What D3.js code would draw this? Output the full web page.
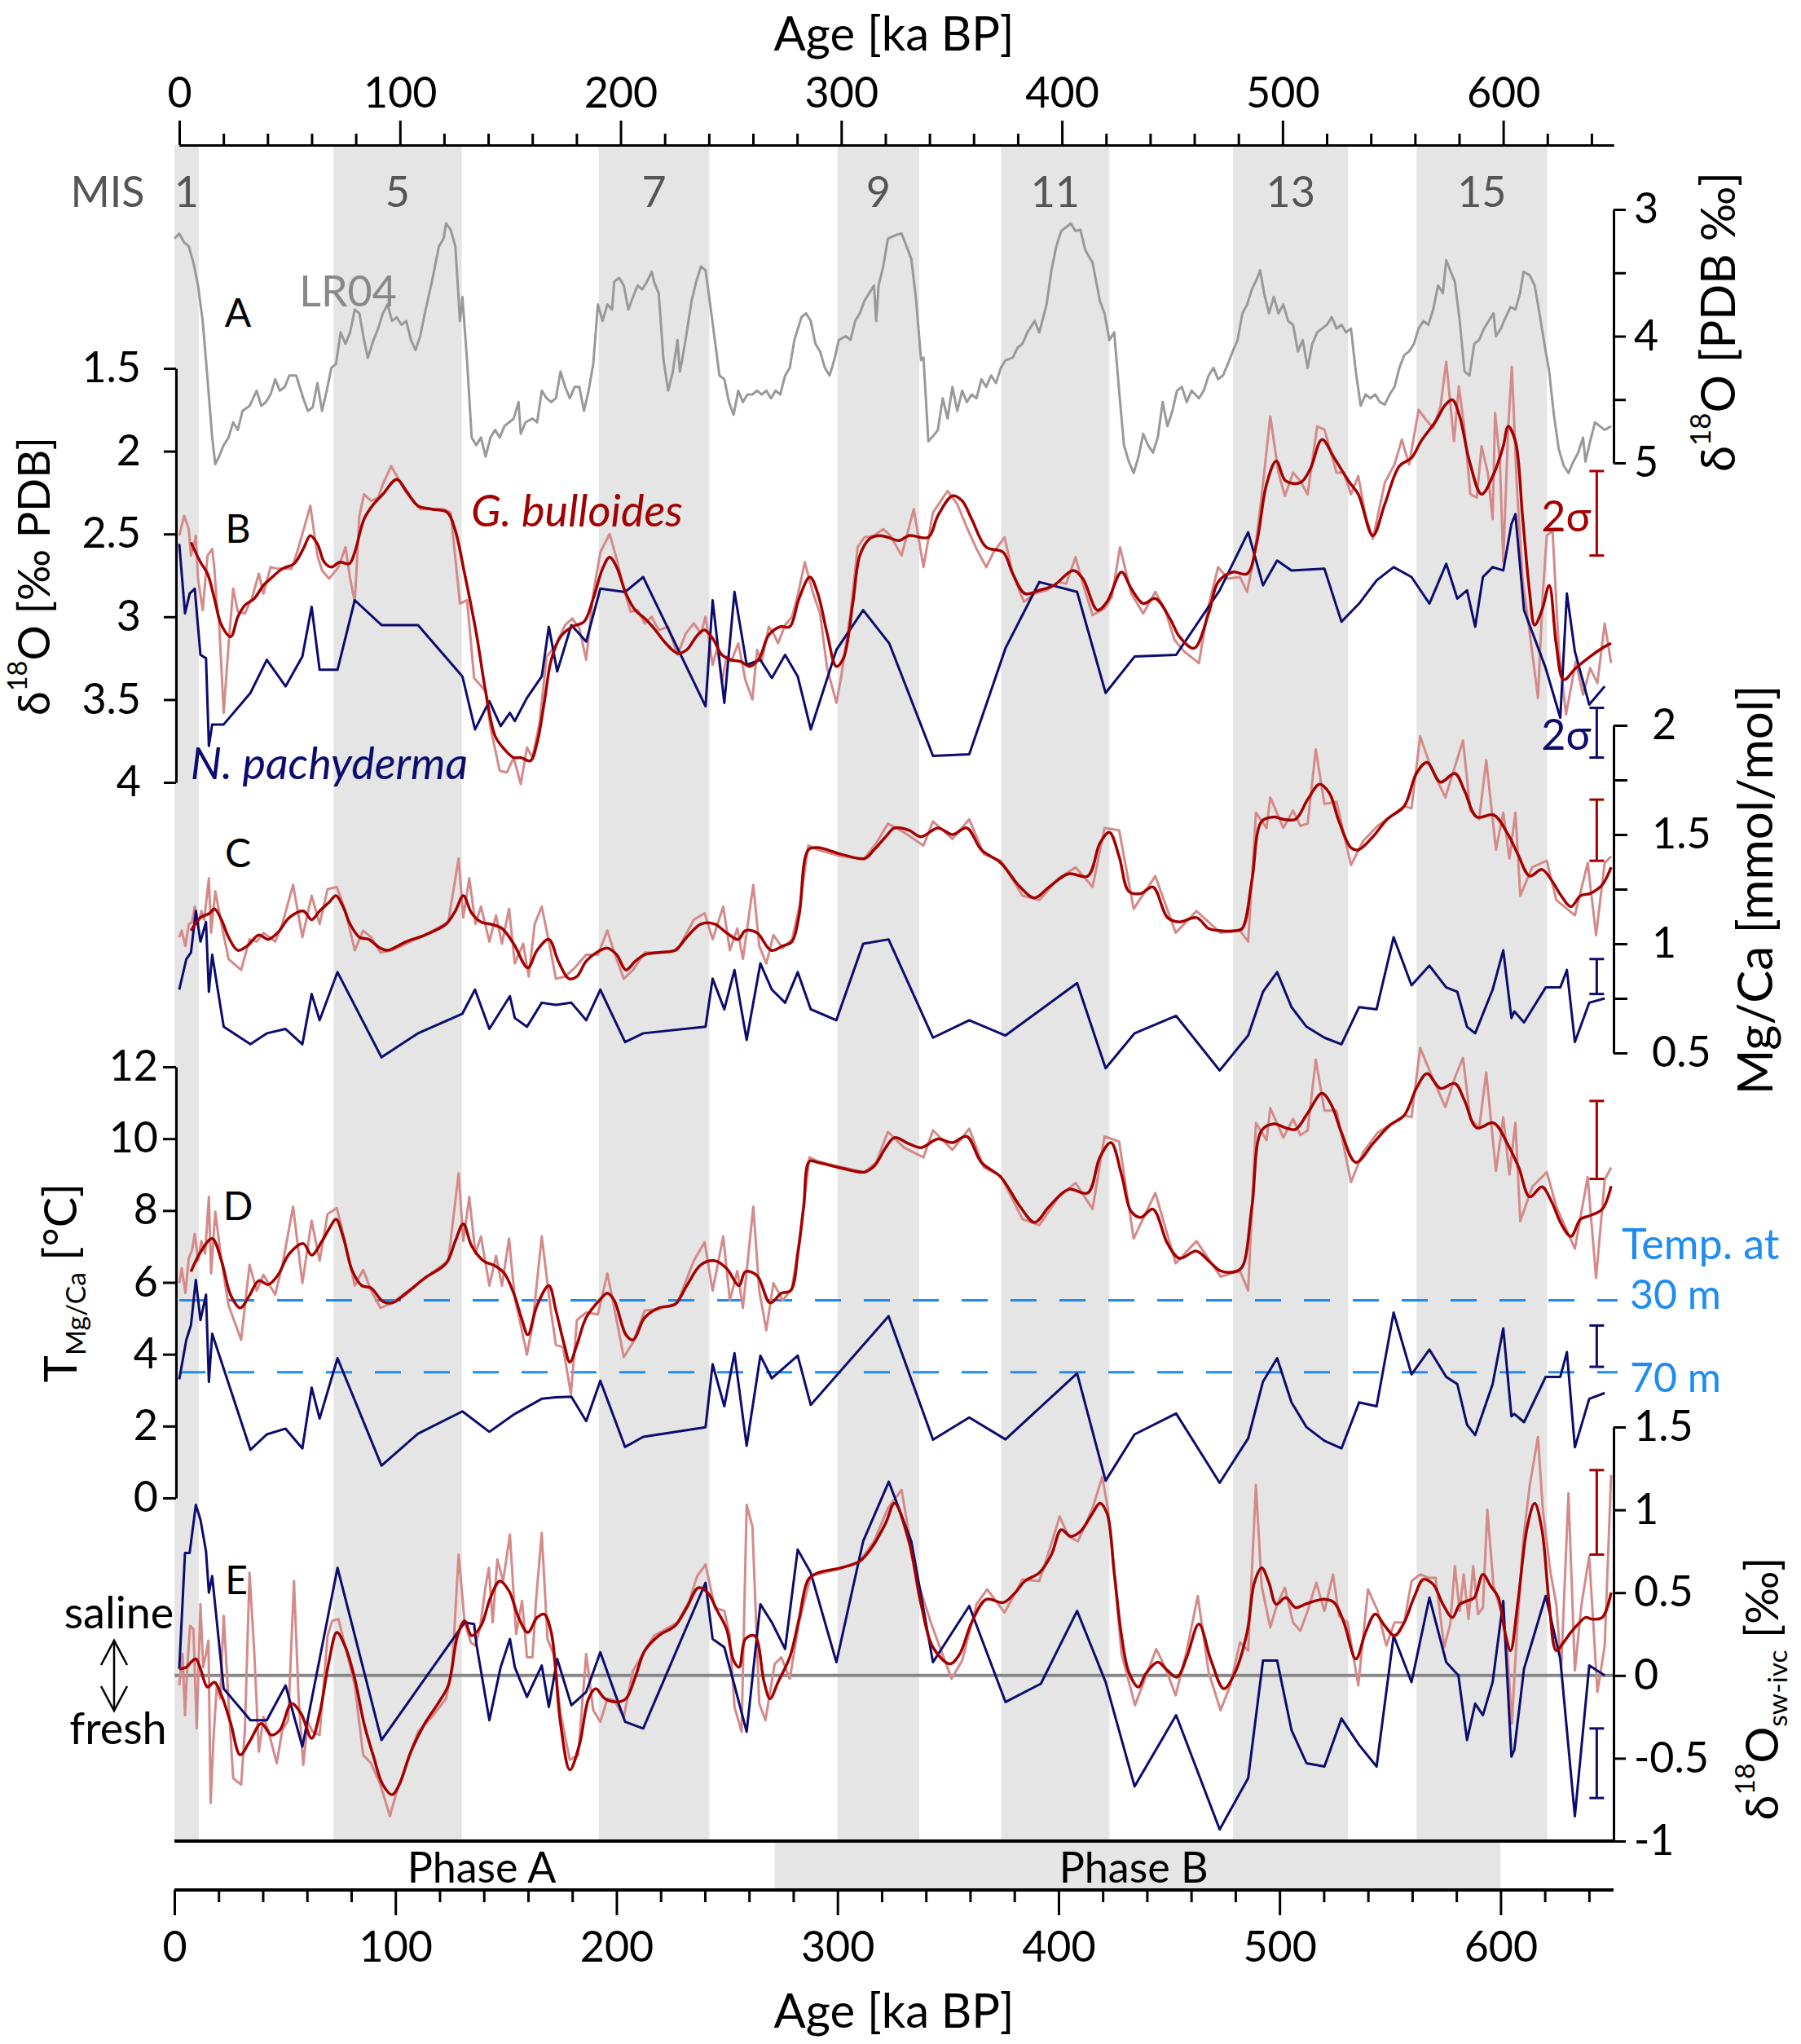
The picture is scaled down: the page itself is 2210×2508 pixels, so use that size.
<!DOCTYPE html>
<html>
<head>
<meta charset="utf-8">
<script src="https://cdn.jsdelivr.net/npm/d3@7"></script>
<style>
  body { margin: 0; background: #fff; }
  text { font-family: Lato, "Open Sans", sans-serif; }
</style>
</head>
<body>
<svg id="chart" width="2210" height="2508"></svg>
<script>

// Marine isotope stages (interglacials), ka.
var misBands = [[0, 11], [72, 130], [192, 242], [300, 337], [374, 423], [479, 531], [562, 621]];
var misLabels = ['1', '5', '7', '9', '11', '13', '15'];
var phaseB = [271.6, 600];
var ageTicks = [0, 100, 200, 300, 400, 500, 600];

// A: LR04 benthic stack, [ka, permil].
var lr04 = [[0.1,3.23],[2.2,3.19],[4.4,3.26],[6.5,3.29],[8.6,3.42],[10.7,3.6],[12.8,3.88],[15,4.34],[17.1,4.8],[18.5,5.01],[20.2,4.95],[22.3,4.86],[24.5,4.8],[26.6,4.68],[28.7,4.74],[30.8,4.59],[34,4.55],[37.2,4.43],[39.3,4.55],[41.4,4.52],[43.5,4.46],[45.6,4.34],[47.7,4.43],[49.9,4.4],[52,4.31],[55.1,4.31],[58.3,4.49],[60.4,4.59],[62.6,4.56],[64.7,4.37],[66.8,4.59],[68.9,4.43],[71,4.25],[73.1,4.22],[75.2,3.97],[77.4,4.06],[79.5,3.97],[81.6,3.79],[83.7,3.82],[85.8,4.03],[87.5,4.17],[90.1,4.03],[92.2,3.94],[94.3,3.82],[96.4,3.75],[98.5,3.88],[100.6,3.85],[102.7,3.91],[104.9,3.88],[107,4.03],[109.1,4.11],[111.2,4],[113.3,3.82],[116.5,3.57],[119.7,3.29],[121.8,3.23],[122.9,3.11],[125,3.16],[127.1,3.29],[129.2,3.88],[130.3,3.69],[132.4,4.19],[134.5,4.8],[136.6,4.86],[138.7,4.8],[140.8,4.95],[143,4.8],[145.1,4.74],[147.2,4.8],[149.3,4.71],[151.4,4.68],[153.5,4.65],[155.7,4.52],[156.7,4.77],[158.8,4.68],[162,4.65],[164.1,4.68],[166.2,4.43],[168.4,4.49],[170.5,4.52],[172.6,4.49],[174.7,4.28],[176.8,4.4],[178.9,4.49],[181.1,4.4],[183.2,4.4],[185.3,4.59],[187.4,4.43],[189.5,4.22],[191.6,3.75],[193.7,3.88],[195.9,3.75],[198,3.79],[199,3.57],[201.2,3.54],[203.3,3.6],[205.4,3.79],[207.5,3.69],[209.6,3.6],[211.7,3.63],[213.8,3.57],[216,3.49],[217,3.57],[219.1,3.66],[221.3,4.19],[223.4,4.43],[225.5,4.28],[227.6,4.03],[228.7,4.28],[229.7,4.19],[231.8,3.97],[234,3.72],[236.1,3.57],[238.2,3.45],[240.3,3.48],[242.4,3.75],[244.5,4.03],[246.6,4.31],[248.8,4.34],[250.9,4.52],[253,4.62],[255.1,4.43],[257.2,4.52],[259.3,4.46],[261.5,4.46],[263.6,4.43],[265.7,4.46],[267.8,4.43],[269.9,4.49],[272,4.43],[274.1,4.46],[276.3,4.31],[278.4,4.25],[280.5,4.03],[283.7,3.85],[285.8,3.82],[287.9,3.88],[290,4.06],[292.1,4.12],[294.3,4.25],[296.4,4.31],[298.5,4.19],[300.6,4.03],[303.8,4],[305.9,4.03],[308,3.88],[310.1,3.82],[312.2,3.72],[314.4,3.66],[316.5,3.6],[317.5,3.88],[318.6,3.6],[320.7,3.45],[322.8,3.23],[326.6,3.2],[329,3.19],[331.2,3.29],[333.4,3.39],[335.6,3.72],[337.8,4.19],[338.9,4.17],[341.1,4.83],[343.2,4.79],[345.4,4.74],[347.6,4.49],[349.8,4.65],[352,4.4],[354.2,4.59],[356.4,4.43],[358.5,4.52],[360.7,4.46],[362.9,4.49],[365.1,4.34],[367.3,4.4],[369.5,4.31],[371.7,4.37],[373.9,4.25],[376,4.19],[379.3,4.17],[381.5,4.09],[383.7,4.06],[385.9,3.97],[389.2,3.88],[391.3,3.97],[394.6,3.75],[396.8,3.48],[399,3.29],[401.2,3.17],[403.4,3.14],[405.5,3.11],[407.7,3.17],[409.9,3.16],[412.1,3.32],[415.4,3.42],[418.7,3.72],[420.8,3.82],[423,4.03],[425.2,3.97],[427.4,4.43],[429.6,4.86],[431.8,4.99],[434,5.08],[436.2,4.95],[438.3,4.77],[440.5,4.86],[442.7,4.92],[444.9,4.8],[447.1,4.52],[449.3,4.71],[451.5,4.59],[453.6,4.43],[455.8,4.4],[458,4.52],[460.2,4.43],[463.5,4.49],[465.7,4.43],[467.9,4.31],[470.1,4.25],[472.2,4.34],[474.4,4.31],[476.6,4.22],[478.8,4.12],[481,4.03],[483.2,3.82],[485.3,3.75],[487.5,3.63],[489.7,3.55],[491.2,3.48],[493,3.66],[495.2,3.82],[497.4,3.69],[499.5,3.82],[501.7,3.75],[503.9,3.88],[506.1,3.91],[508.3,4.12],[510.5,4.03],[512.7,4.25],[514.8,4.06],[517,3.97],[519.2,3.94],[521.4,3.91],[523.6,3.85],[525.8,3.94],[528,3.91],[530.1,3.97],[532.3,3.94],[534.5,4.28],[536.7,4.55],[538.9,4.46],[541.1,4.49],[543.3,4.46],[545.4,4.52],[547.6,4.54],[549.8,4.46],[552,4.4],[554.2,4.25],[556.4,4.15],[558.6,4.12],[560.8,4.06],[562.9,3.94],[565.1,3.88],[567.3,3.91],[569.5,3.79],[571.7,3.6],[573.9,3.66],[575.4,3.4],[577.2,3.48],[579.3,3.57],[581.5,3.88],[583.7,4.28],[585.9,4.31],[588.1,4.06],[590.3,4.03],[592.5,3.94],[594.6,3.88],[596.8,3.82],[597.9,4],[600.1,3.94],[602.3,3.85],[604.5,3.77],[606.7,3.79],[608.8,3.66],[610.4,3.49],[613.2,3.52],[615.4,3.6],[617.6,3.82],[619.8,4.06],[622,4.28],[624.1,4.62],[626.3,4.89],[628.5,5.02],[630.7,5.08],[632.9,4.99],[635.1,4.92],[637.3,4.8],[638.4,4.99],[640.5,4.83],[642.7,4.68],[644.9,4.71],[647.1,4.74],[650,4.71]];

// B: planktic d18O, G. bulloides raw and smoothed, N. pachyderma.
var gbRawB = [[2.2,2.51],[4.4,2.39],[6.5,2.47],[7.5,2.63],[8.6,2.58],[9.7,2.51],[10.7,2.77],[12.8,2.96],[15,2.63],[17.1,2.59],[18.1,2.71],[19.2,2.93],[20.2,3.03],[22.3,3.58],[24.5,3.17],[26.6,2.83],[28.7,2.97],[31.9,2.98],[35,2.89],[38.2,2.74],[40.3,2.86],[43.5,2.7],[46.7,2.71],[53,2.71],[56.2,2.58],[61.5,2.33],[64.7,2.63],[66.8,2.72],[70,2.77],[74.2,2.7],[77.4,2.58],[79.5,2.77],[81.6,2.91],[83.7,2.39],[85.8,2.26],[89,2.3],[92.2,2.28],[94.3,2.2],[98.1,2.09],[100.6,2.15],[104.9,2.25],[111.2,2.35],[121.8,2.35],[125,2.37],[129.2,2.92],[132.4,2.9],[135.6,3.37],[140.8,3.45],[143,3.67],[147.2,3.93],[150.4,3.94],[153.5,3.85],[156.7,4.01],[159.5,3.79],[162,3.85],[165.2,3.64],[168.4,3.24],[172.6,3.17],[176.8,3.05],[180,3.01],[183.2,3.07],[186.3,3.26],[189.5,2.86],[192.7,2.61],[196.9,2.5],[200.1,2.65],[203.3,2.83],[206.4,2.97],[209.6,2.96],[212.8,3.04],[215.9,3],[219.1,3.08],[223.4,3.06],[227.6,3.23],[231.4,3.1],[235,3.04],[238.2,3.1],[240.3,3],[243.5,3.29],[245.6,3.19],[247.7,3.4],[249.8,3.24],[251.9,3.27],[255.1,3.16],[258.3,3.38],[261.5,3.5],[263.6,3.2],[265.7,3.27],[268.9,3.06],[271,3.1],[273.1,3.16],[276.3,3.05],[279.4,3],[282.2,2.86],[285.2,2.67],[289,2.86],[292.1,2.98],[295.3,3.31],[299.5,3.52],[301.7,3.36],[305.9,2.98],[309.1,2.58],[312.2,2.52],[316.5,2.51],[320.7,2.47],[323.9,2.51],[329,2.63],[334.5,2.35],[338.9,2.7],[343.2,2.37],[349.8,2.24],[354.2,2.32],[358.5,2.46],[362.9,2.59],[367.3,2.7],[370.6,2.61],[375.6,2.52],[379.3,2.74],[384.3,2.91],[389.2,2.86],[394.6,2.84],[400.1,2.79],[403.4,2.8],[407.7,2.64],[411,2.8],[415.4,2.99],[420.8,2.95],[424.1,2.88],[427.8,2.58],[432.9,2.86],[438.3,2.98],[443.8,2.85],[448.2,2.96],[452.5,3.14],[456.9,3.21],[463.5,3.28],[467.9,2.93],[472.2,2.7],[476.6,2.77],[482.1,2.76],[485.3,2.85],[488.6,2.63],[491.9,2.27],[495.8,1.79],[499.5,2.13],[502.4,2.27],[506.1,2.13],[509.4,2.18],[512.7,2.26],[517,1.85],[520.3,1.87],[525.8,2.13],[529.1,2.13],[532.3,2.26],[535.6,2.15],[538.9,2.39],[542.2,2.53],[547.6,2.19],[552,2.08],[555.3,1.93],[558.6,2.08],[562.9,1.75],[566.2,1.81],[569.5,1.86],[572.8,1.73],[575.4,1.46],[578.9,1.94],[581.1,1.61],[583.7,1.87],[586.3,2.26],[589.2,2.28],[591.4,1.97],[594.2,2.13],[596.4,2.41],[597.5,1.77],[599.7,2.06],[601.2,2.67],[603.4,1.87],[605.1,1.49],[607.3,2.2],[609.9,2.77],[613.2,3.1],[616.9,3.49],[619.1,2.86],[620.9,2.51],[623.5,2.48],[626.3,3.19],[629.6,3.59],[634,3.27],[637.3,3.47],[640.5,3.31],[643.8,3.4],[647.1,3.04],[650,3.28]];
var gbSmB = [[7.5,2.55],[11.8,2.67],[15,2.74],[18.1,2.89],[21.3,3.05],[25.5,3.12],[28.7,3],[31.9,2.93],[36.1,2.89],[40.3,2.81],[43.5,2.77],[48.8,2.71],[54.1,2.68],[58.3,2.59],[61.5,2.51],[64.7,2.56],[67.8,2.67],[71,2.7],[74.8,2.67],[79.1,2.68],[81.6,2.61],[85.8,2.41],[90.1,2.32],[94.3,2.26],[100.6,2.17],[104.9,2.24],[110.2,2.33],[116.5,2.35],[123.5,2.37],[127.1,2.48],[131.3,2.74],[136.6,3.1],[140.8,3.45],[145.1,3.72],[149.3,3.8],[153.5,3.85],[156.7,3.85],[161,3.87],[164.1,3.76],[167.3,3.52],[170.5,3.26],[174.7,3.12],[180,3.06],[185.3,3.03],[189.5,2.89],[193.7,2.71],[196.9,2.64],[200.1,2.7],[204.3,2.86],[208.5,2.96],[212.8,3.01],[217,3.07],[222.3,3.16],[227.6,3.22],[231.8,3.2],[236.1,3.12],[239.7,3.08],[243.5,3.13],[247.7,3.23],[251.9,3.26],[256.2,3.27],[260.4,3.3],[264.6,3.25],[268.9,3.11],[274.1,3.06],[278.4,3.06],[282.6,2.89],[287.5,2.76],[291.1,2.86],[295.3,3.1],[299.5,3.3],[302.7,3.25],[307,2.91],[310.1,2.63],[314.4,2.53],[318.6,2.51],[322.8,2.52],[327.9,2.54],[332.3,2.51],[341.1,2.52],[345.4,2.39],[352,2.27],[356.4,2.3],[360.7,2.41],[367.3,2.58],[374.9,2.61],[379.3,2.74],[384.8,2.86],[391.3,2.84],[397.9,2.81],[406.6,2.72],[411,2.77],[417.6,2.96],[421.9,2.91],[428.5,2.73],[432.9,2.83],[438.3,2.92],[443.8,2.89],[450.4,3.01],[454.7,3.12],[461.3,3.19],[467.9,2.98],[472.2,2.79],[478.8,2.73],[485.3,2.74],[489.7,2.55],[494.1,2.2],[498.5,2.06],[502.8,2.18],[509.4,2.19],[513.8,2.11],[519.2,1.93],[524.7,2.04],[531.2,2.18],[535.6,2.26],[542.2,2.51],[547.6,2.32],[554.2,2.09],[559.7,2.04],[564,1.94],[570.6,1.82],[575,1.72],[578.2,1.69],[581.5,1.79],[585.9,2.06],[591.4,2.26],[596.8,2.14],[601.2,1.97],[603.4,1.85],[606.7,1.94],[609.9,2.39],[613.2,2.86],[615.4,3.05],[618.7,2.96],[622,2.81],[625.2,3.17],[628.5,3.38],[634,3.31],[640.5,3.24],[647.1,3.18],[650,3.16]];
var npB = [[2.2,2.56],[4.8,2.98],[6.9,2.86],[9.2,2.83],[11.8,3.23],[14.3,3.25],[15.6,3.78],[17.1,3.65],[22.3,3.65],[34.4,3.46],[41.8,3.26],[50.3,3.42],[57.9,3.24],[62.1,2.94],[65.7,3.32],[73.8,3.32],[81.6,2.9],[93.7,3.05],[110.2,3.05],[130.3,3.36],[136,3.68],[142.5,3.51],[147.6,3.66],[151.8,3.58],[154,3.63],[159.5,3.49],[166.2,3.36],[169.4,3.06],[173.2,3.33],[179.6,3.05],[186.3,3.15],[192.7,2.83],[203.9,2.85],[212.1,2.76],[240.3,3.54],[243.5,2.9],[248.8,3.52],[253.4,2.85],[258.9,3.29],[265.1,3.26],[270.3,3.37],[276.3,3.23],[282,3.36],[287.9,3.68],[299.5,3.2],[311.6,2.96],[323.4,3.16],[343.2,3.84],[359.6,3.83],[376,3.19],[391.3,2.79],[408.4,2.85],[421.3,3.46],[434.4,3.24],[453.2,3.23],[472.9,2.84],[485.8,2.49],[492.5,2.81],[498.9,2.66],[505.4,2.72],[520.3,2.71],[528,3.03],[536,2.92],[543.9,2.78],[551.6,2.7],[559.7,2.76],[567.8,2.92],[575.4,2.68],[580.4,2.89],[584.8,2.84],[588.5,3.06],[592,2.76],[596.4,2.7],[601.2,2.72],[604.9,2.44],[606.7,2.38],[610.6,2.96],[620.4,3.31],[627,3.61],[630,2.86],[633.6,3.21],[640.1,3.53],[647.1,3.42]];

// C: Mg/Ca, mmol/mol.
var gbRawC = [[2.2,1.03],[3.3,1.06],[5,0.99],[6.5,1.09],[8,1.1],[9.2,1.17],[10.7,1.09],[12.2,1.15],[13.5,1.11],[15.6,1.3],[16.6,1.05],[18.5,1.24],[21.3,1.09],[24.5,0.93],[30.2,0.88],[34,1.02],[37.2,1.01],[40.3,1.05],[45.6,1.01],[48.8,1.09],[53.7,1.27],[57.9,1.03],[62.1,1.22],[65.7,1.09],[69.3,1.25],[73.5,1.26],[77.4,1.15],[81.6,0.97],[85.4,1.06],[89,1.03],[93.2,0.96],[98.5,0.97],[113.3,1.04],[123.9,1.1],[128.6,1.39],[130.7,1.12],[133.4,1.3],[136.2,1.09],[138.7,1.17],[142.5,1.01],[145.5,1.13],[148.2,1],[151.4,1.16],[154,0.91],[157.8,1],[160.3,0.85],[163,1.09],[166.2,1.17],[169.4,1.01],[172.6,0.84],[176.8,0.85],[181.1,0.89],[186.3,0.95],[191.6,0.95],[195.9,1.06],[199,0.96],[203.3,0.84],[207.5,0.88],[212.8,0.96],[219.1,0.96],[227.6,0.97],[235,1.11],[239.9,1.14],[243.5,1.02],[248.3,1.17],[251.3,0.97],[254.7,1.07],[257.2,0.93],[261.9,1.27],[264.6,0.99],[267.8,0.91],[271,1.04],[275.2,0.98],[279.4,1.02],[283,1.18],[286.8,1.45],[291.1,1.43],[301.7,1.4],[312.2,1.39],[317.5,1.46],[322.8,1.55],[330.1,1.51],[338.9,1.45],[343.2,1.56],[352,1.48],[359.6,1.57],[366.2,1.41],[373.9,1.38],[383.7,1.22],[391.3,1.2],[400.1,1.3],[407.7,1.35],[415.4,1.26],[420.8,1.53],[427.4,1.52],[434,1.16],[443.8,1.31],[453,1.05],[462.4,1.15],[473.3,1.05],[482.1,1.06],[485.8,1.01],[489.3,1.6],[494.1,1.53],[495.8,1.67],[501.7,1.53],[506.1,1.61],[509.4,1.54],[512.7,1.55],[516.4,1.89],[520.3,1.64],[525.8,1.65],[532.3,1.36],[537.8,1.47],[544.4,1.54],[556.4,1.63],[559.7,1.62],[563.6,1.95],[568.4,1.81],[575,1.67],[579.3,1.81],[583,1.93],[586.3,1.61],[590.3,1.57],[593.5,1.84],[597.9,1.43],[601.2,1.6],[604,1.39],[606.7,1.6],[608.9,1.22],[614.3,1.35],[620.9,1.38],[625.2,1.2],[633.6,1.13],[639.4,1.37],[643.2,1.04],[647.1,1.37],[650,1.4]];
var gbSmC = [[7.5,1.06],[11.8,1.12],[16,1.14],[18.1,1.16],[21.3,1.11],[24.5,1.03],[28.7,0.97],[32.9,0.99],[38.2,1.04],[42.4,1.02],[46.7,1.05],[52,1.12],[58.3,1.15],[62.1,1.11],[65.7,1.15],[70,1.19],[73.1,1.22],[76.3,1.17],[79.5,1.09],[83.7,1.03],[87.9,1.02],[93.2,0.98],[96.4,0.97],[104.9,1.01],[113.3,1.04],[122.9,1.09],[127.1,1.15],[130.7,1.22],[134.5,1.14],[138.7,1.1],[143,1.09],[148.2,1.07],[153.5,1],[159.9,0.89],[164.1,0.97],[169.4,1.02],[173.7,0.92],[178.5,0.84],[182.1,0.85],[186.3,0.92],[192.7,0.97],[195.9,0.98],[200.1,0.95],[204.3,0.88],[208.5,0.92],[212.8,0.95],[219.1,0.96],[226.5,0.97],[231.8,1.03],[238.2,1.09],[244.5,1.09],[249.8,1.05],[255.1,1.02],[258.3,1.06],[263.6,1.05],[269.9,0.97],[275.2,0.99],[279.4,1.01],[282.6,1.13],[286.8,1.43],[291.1,1.44],[301.7,1.41],[312.2,1.39],[316.5,1.43],[321.8,1.49],[325.8,1.53],[332.3,1.52],[337.8,1.49],[345.4,1.53],[352,1.5],[358.5,1.53],[365.1,1.43],[373.9,1.37],[382.6,1.26],[389.2,1.21],[395.7,1.26],[404.5,1.32],[413.2,1.31],[418.7,1.46],[423,1.51],[427.4,1.4],[431.8,1.24],[437.2,1.23],[442.7,1.26],[449.3,1.12],[454.7,1.1],[462.4,1.12],[467.9,1.07],[473.3,1.06],[479.9,1.06],[483.1,1.07],[487.5,1.29],[491.9,1.56],[497.4,1.58],[501.7,1.57],[507.2,1.57],[512.7,1.66],[518.1,1.73],[522.5,1.69],[526.9,1.56],[532.3,1.44],[535.6,1.43],[542.2,1.49],[548.7,1.57],[556.4,1.63],[561.9,1.78],[566.7,1.83],[572.8,1.74],[579.3,1.78],[583.7,1.7],[589.2,1.58],[596.8,1.59],[603.4,1.5],[607.8,1.41],[613.2,1.31],[618.7,1.34],[623.1,1.29],[627.4,1.22],[631.8,1.17],[636.2,1.22],[640.5,1.23],[646,1.27],[650,1.35]];
var npC = [[2.2,0.79],[5.4,0.93],[7.5,0.96],[9.7,1.15],[11.8,1.01],[14.3,1.1],[15.6,0.78],[17.1,0.95],[22.3,0.62],[34.4,0.54],[41.8,0.59],[50.3,0.61],[57.9,0.54],[62.1,0.77],[65.7,0.65],[73.8,0.87],[93.7,0.48],[110.2,0.59],[130.3,0.68],[136,0.79],[142.5,0.61],[151.8,0.76],[154,0.66],[159.5,0.62],[166.2,0.73],[172.6,0.72],[179.6,0.73],[186.3,0.65],[192.7,0.79],[203.9,0.55],[212.1,0.59],[240.3,0.62],[243.5,0.84],[248.8,0.7],[253.4,0.88],[258.9,0.56],[265.1,0.91],[270.3,0.79],[276.3,0.73],[282,0.87],[287.9,0.7],[299.5,0.65],[311.6,1],[323.1,1.02],[343.2,0.57],[359.6,0.65],[376,0.58],[408.4,0.82],[421.3,0.43],[434.4,0.59],[453.2,0.67],[472.9,0.42],[485.8,0.58],[492.5,0.78],[498.9,0.87],[505.4,0.71],[512.2,0.62],[520.3,0.57],[528,0.54],[536,0.71],[543.9,0.7],[551.6,1.03],[559.7,0.81],[567.8,0.9],[575.4,0.8],[580.4,0.78],[584.8,0.62],[588.5,0.59],[596.4,0.79],[601.2,0.97],[604.9,0.66],[606.2,0.69],[610.6,0.64],[620.4,0.8],[627,0.8],[630,0.88],[633.6,0.55],[640.1,0.73],[647.1,0.75]];

// D: Mg/Ca temperature, degC.
var gbRawD = [[2.2,5.98],[3.3,6.39],[5,5.7],[6.5,6.67],[8,6.9],[9.2,7.35],[10.7,6.6],[12.2,7.15],[13.9,6.8],[15.6,8.38],[16.6,6.25],[18.5,7.97],[21.3,6.6],[24.5,5.36],[30.2,4.4],[34,6.49],[37.2,5.77],[40.3,6.21],[45.6,5.66],[48.8,6.46],[53.7,8.11],[57.9,5.98],[62.1,7.72],[65.7,6.6],[69.3,7.9],[73.5,8.07],[77.4,7.08],[81.6,5.91],[85.4,6.35],[89,5.77],[93.2,5.29],[98.5,5.43],[113.3,6.12],[123.9,6.6],[128.6,9.04],[130.7,7.15],[133.4,8.38],[136.2,6.8],[138.7,7.28],[142.5,5.91],[145.5,6.74],[148.2,5.91],[151.4,7.22],[154,5.57],[156.7,4.81],[159.5,3.99],[162,4.81],[166.2,7.28],[170,5.36],[172.6,4.26],[175.8,4.2],[179.4,2.89],[182.1,4.95],[186.3,5.16],[191.6,5.11],[195.9,6.25],[199,5.29],[203.3,3.92],[207.5,4.33],[212.8,5.22],[219.1,5.25],[227.6,5.43],[235,6.6],[239.9,7.12],[243.5,5.77],[248.3,7.28],[251.3,5.5],[254.7,6.32],[257.2,5.29],[261.9,8.11],[264.6,5.77],[267.8,4.67],[271,5.98],[275.2,5.5],[279.4,5.84],[283,7.28],[287.3,9.48],[291.1,9.37],[301.7,9.21],[312.2,9.07],[317.5,9.34],[322.8,10.19],[330.1,9.75],[338.9,9.48],[343.2,10.23],[352,9.69],[359.6,10.28],[366.2,9.2],[373.9,8.96],[383.7,7.76],[391.3,7.59],[400.1,8.38],[407.7,8.77],[415.4,8.04],[420.8,10.06],[427.4,9.92],[434,7.22],[443.8,8.49],[453,6.53],[462.4,7.15],[473.3,6.16],[482.1,6.32],[485.8,5.77],[489.3,10.44],[494.1,9.96],[495.8,10.85],[501.7,10.03],[506.1,10.55],[509.4,10.1],[512.7,10.23],[516.4,12.2],[520.3,10.78],[525.8,10.78],[532.3,8.79],[537.8,9.62],[544.4,10.17],[556.4,10.65],[559.7,10.6],[563.6,12.53],[568.4,11.81],[575,10.88],[579.3,11.7],[583,12.25],[586.3,10.55],[590.3,10.3],[593.5,11.84],[597.9,9.1],[601.2,10.6],[604,9],[606.7,10.44],[608.9,7.7],[614.3,8.66],[620.9,9.07],[625.2,8.11],[633.6,6.94],[639.4,8.93],[643.2,6.12],[647.1,8.86],[650,9.2]];
var gbSmD = [[7.5,6.3],[11.8,6.84],[17.1,7.22],[21.3,6.6],[25.5,5.64],[29.8,5.29],[34,5.64],[38.2,6.05],[42.4,5.94],[46.7,6.19],[52,6.8],[58.3,7.08],[62.1,6.76],[66.8,7.15],[70,7.49],[73.1,7.76],[76.3,7.28],[80.5,6.32],[84.8,5.91],[89,5.84],[94.3,5.47],[98.5,5.43],[104.9,5.7],[113.3,6.12],[122.9,6.53],[127.1,7.15],[130.7,7.63],[134.5,7.01],[139.8,6.6],[145.1,6.46],[149.3,6.25],[153.5,5.7],[157.3,4.95],[159.9,4.54],[164.1,5.36],[169.4,5.91],[172.6,5.22],[176.4,4.26],[178.9,3.78],[182.1,4.26],[186.3,5.02],[192.7,5.53],[195.9,5.7],[199,5.5],[204.3,4.54],[207.5,4.4],[212.8,5.02],[219.1,5.29],[226.5,5.39],[231.8,5.91],[238.2,6.49],[244.5,6.6],[249.8,6.39],[255.5,5.91],[258.3,6.3],[263.6,6.19],[269.5,5.43],[274.6,5.7],[278.8,5.77],[282.2,6.87],[284.7,8.11],[287.3,9.37],[291.1,9.34],[301.7,9.18],[312.2,9.07],[316.5,9.23],[321.8,9.75],[325.8,10.03],[332.3,9.86],[337.8,9.75],[345.4,9.99],[352,9.89],[358.5,10.06],[365.1,9.34],[373.9,8.93],[382.6,8.11],[389.2,7.67],[395.7,8.11],[404.5,8.59],[413.2,8.49],[418.7,9.48],[423.7,9.89],[428.5,9],[432.9,7.97],[437.2,7.81],[442.7,8.04],[449.3,7.08],[454.7,6.67],[462.4,6.87],[467.9,6.6],[473.3,6.32],[479.9,6.3],[483.1,6.43],[487.5,8.11],[491.9,10.23],[497.4,10.41],[502.8,10.3],[507.2,10.26],[512.7,10.71],[519.2,11.26],[523.6,10.92],[528,10.17],[534.5,9.34],[542.2,9.86],[549.8,10.37],[556.4,10.65],[561.9,11.4],[566.7,11.81],[572.8,11.4],[579.3,11.54],[583.7,11.06],[589.2,10.3],[596.8,10.44],[603.4,9.82],[608.2,9.2],[613.2,8.38],[618.7,8.66],[623.1,8.24],[627.4,7.63],[631.8,7.28],[636.2,7.76],[640.5,7.86],[646,8.04],[650,8.68]];
var npD = [[2.2,3.3],[5.4,4.4],[7.5,4.81],[9.7,6.07],[11.8,4.95],[14.3,5.66],[15.6,3.23],[17.1,4.57],[34.4,1.34],[41.8,1.77],[50.3,1.93],[57.9,1.38],[62.1,3.07],[65.7,2.21],[73.8,3.89],[93.7,0.9],[110.2,1.79],[130.3,2.41],[142.5,1.84],[154,2.34],[166.2,2.76],[172.6,2.8],[179.6,2.82],[186.3,2.14],[192.7,3.26],[203.9,1.42],[212.1,1.7],[240.3,1.97],[243.5,3.72],[248.8,2.55],[253.4,4.03],[258.9,1.45],[265.1,3.96],[270.3,3.33],[282,3.96],[287.9,2.59],[323.1,5.06],[343.2,1.62],[359.6,2.24],[376,1.63],[408.4,3.47],[421.3,0.48],[434.4,1.77],[453.2,2.35],[472.9,0.42],[485.8,1.66],[492.5,3.24],[498.9,3.89],[505.4,2.66],[512.2,1.97],[520.3,1.59],[528,1.38],[536,2.66],[543.9,2.55],[551.6,5.16],[559.7,3.44],[567.8,4.13],[575.4,3.37],[580.4,3.17],[584.8,2.04],[588.5,1.75],[596.4,3.17],[601.2,4.72],[604.9,2.27],[606.2,2.34],[610.6,2.11],[620.4,3.37],[627,3.37],[630,4.06],[633.6,1.41],[640.1,2.76],[647.1,2.92]];
var depthTemps = [5.5, 3.5];

// E: d18O seawater (ice-volume corrected).
var gbRawE = [[2.2,-0.06],[3.7,0.13],[4.8,-0.24],[5.8,0.04],[7.1,0.3],[8.6,0.28],[10.1,-0.32],[11.8,0.43],[13,0.05],[14.3,0.13],[15.4,0.21],[16.4,-0.77],[17.7,-0.38],[19.2,-0.06],[20.7,-0.14],[22.3,0.36],[24.5,-0.16],[26.6,-0.62],[30.2,-0.66],[31.9,-0.33],[34,0.62],[36.1,0.15],[38.2,-0.46],[40.3,-0.25],[42.4,-0.33],[46.3,-0.53],[48.8,-0.33],[51.5,-0.27],[54.1,0.57],[56.2,-0.14],[58.3,-0.54],[60.4,-0.28],[62.5,-0.34],[65.7,-0.36],[69.3,0.24],[71.4,0.33],[74.2,0.34],[77.8,0.15],[81.6,-0.06],[85.4,-0.48],[89,-0.53],[93.2,-0.66],[97.5,-0.85],[100.6,-0.7],[110.2,-0.34],[116.5,-0.25],[122.9,-0.14],[125.6,0.03],[128.6,0.73],[131.3,0.32],[134.1,0.2],[136.2,0.18],[138.3,0.29],[140.8,0.54],[142.3,0.65],[144,0.32],[146.1,0.7],[148.7,0.57],[151.8,0.85],[154.6,0.25],[157.3,0.45],[159.5,0.11],[162,0.11],[163.7,0.47],[166.2,0.86],[168.8,0.22],[171.5,0.13],[174.7,-0.23],[178.9,-0.51],[182.7,-0.48],[186.3,0.13],[189.5,-0.21],[192.7,-0.28],[195.9,-0.14],[199,-0.15],[203.3,-0.25],[207.5,0.03],[212.8,0.15],[217,0.24],[227.6,0.32],[232.9,0.45],[236.5,0.6],[240.3,0.67],[244.5,0.41],[248.8,0.39],[251.3,0.24],[253.4,-0.19],[256.6,-0.34],[258.9,1.03],[261.5,0.9],[264.6,-0.17],[267.4,-0.27],[271.6,0.07],[274.6,0.11],[278.4,-0.02],[282.6,0.32],[287.9,0.6],[299.5,0.64],[310.1,0.69],[316.5,0.81],[322.8,1.01],[329,1.12],[335.6,0.6],[342.2,0.32],[351.6,-0.02],[356.4,0.09],[362.9,0.43],[367.7,0.52],[375.6,0.38],[383.7,0.58],[391.3,0.57],[395.7,0.75],[400.5,0.96],[404.5,0.84],[408.8,0.81],[415.4,1.01],[419.8,1.2],[422.4,1],[425.2,0.62],[428.5,0.13],[434.6,-0.18],[439.4,-0.01],[444.2,0.16],[448.2,0.05],[453,-0.12],[458,0.15],[463,0.48],[467.9,0.02],[473.3,-0.21],[477.7,-0.06],[482.1,0.2],[485.8,0.15],[489.3,1.15],[491.9,0.54],[495.8,0.29],[498.9,0.43],[502.4,0.53],[506.1,0.32],[509.4,0.27],[512.7,0.39],[516.6,0.56],[520.3,0.39],[524.2,0.61],[526.9,0.36],[530.8,0.32],[535.6,-0.06],[540,0.52],[544.4,0.39],[548.3,0.18],[552,0.32],[556.4,0.32],[559.7,0.57],[563.6,0.61],[567.3,0.59],[570.6,0.59],[574.5,0.17],[577.2,0.31],[579.3,0.66],[581.5,0.39],[583.3,0.61],[585.5,0.34],[587.6,0.66],[589.8,0.37],[592,0.41],[594,1],[596.8,0.54],[600.1,0.39],[602.9,0.18],[605.1,-0.29],[607.3,0.24],[610.4,0.84],[613.2,1.15],[616.9,1.44],[619.1,1],[622.6,0.62],[625.2,0.43],[627.4,0.04],[630.7,1.1],[633.6,0.03],[636.6,0.43],[640.1,0.72],[643.8,-0.1],[647.1,0.18],[650,1.21]];
var gbSmE = [[2.2,0.04],[5.4,0.05],[7.5,0.08],[9.7,0.1],[11.8,0.04],[15,-0.07],[18.1,-0.04],[21.3,-0.12],[25.5,-0.29],[29.8,-0.48],[34,-0.4],[39.3,-0.29],[43.9,-0.36],[47.7,-0.33],[53,-0.17],[57.3,-0.23],[62.1,-0.38],[65.7,-0.23],[70,0.09],[73.5,0.26],[77.4,0.17],[81.6,-0.02],[85.8,-0.29],[90.1,-0.49],[94.3,-0.66],[98.5,-0.72],[101.7,-0.66],[107,-0.46],[113.3,-0.29],[119.7,-0.16],[123.9,-0.06],[128.1,0.24],[131.3,0.33],[134.5,0.24],[138.7,0.3],[143,0.47],[147.2,0.57],[151.4,0.51],[155.7,0.35],[159.9,0.26],[164.1,0.35],[167.3,0.37],[170.5,0.26],[174.7,-0.29],[178.9,-0.57],[183.2,-0.42],[187.4,-0.14],[190.6,-0.08],[194.8,-0.14],[200.1,-0.16],[204.3,-0.14],[208.5,-0.01],[212.8,0.15],[219.1,0.24],[226.5,0.3],[231.8,0.41],[237.1,0.53],[241.3,0.5],[245.6,0.39],[249.8,0.28],[253,0.09],[255.5,0.05],[258.3,0.22],[262.5,0.24],[266.8,-0.04],[269.5,-0.14],[273.1,-0.04],[278.4,0.11],[282.6,0.34],[286.8,0.58],[291.1,0.62],[301.7,0.65],[310.1,0.69],[315.4,0.77],[321.8,0.92],[325.8,1.04],[332.3,0.81],[337.8,0.43],[343.2,0.17],[350.9,0.07],[355.3,0.13],[360.7,0.32],[367.3,0.46],[374.9,0.44],[380.4,0.5],[384.8,0.57],[391.3,0.62],[396.8,0.73],[401.2,0.88],[405.5,0.84],[409.9,0.87],[415.4,0.98],[418.7,1.04],[421.9,0.98],[425.2,0.62],[428.5,0.24],[431.8,0.02],[436.2,-0.07],[439.4,0.01],[444.9,0.08],[449.3,0.03],[453.6,-0.01],[458,0.11],[463.5,0.31],[469,0.09],[474.8,-0.08],[479.9,0.02],[485.3,0.26],[488.6,0.56],[491.9,0.65],[495.2,0.56],[498.5,0.43],[502.8,0.47],[507.2,0.41],[511.6,0.43],[516,0.45],[520.3,0.46],[524.7,0.44],[529.1,0.32],[534.5,0.1],[538.9,0.26],[543.3,0.37],[547.6,0.3],[552,0.24],[556.4,0.32],[560.8,0.47],[565.1,0.58],[569.5,0.55],[573.9,0.43],[578.2,0.35],[581.5,0.43],[584.8,0.45],[588.1,0.47],[592,0.61],[595.5,0.54],[599,0.47],[602.3,0.24],[604.5,0.15],[607.7,0.43],[612.1,0.9],[615.4,1.04],[618.7,0.88],[622,0.43],[625.2,0.15],[628.5,0.2],[631.8,0.26],[635.1,0.31],[638.4,0.35],[641.6,0.34],[646,0.35],[650,0.5]];
var npE = [[2.2,0.04],[4.8,0.74],[6.9,0.74],[9.7,1.03],[11.8,0.94],[14.3,0.75],[15.6,0.5],[17.1,0.6],[22.3,-0.08],[34.4,-0.27],[41.8,-0.27],[50.3,-0.06],[57.9,-0.43],[73.8,0.65],[93.7,-0.39],[131.3,0.32],[135.6,0.31],[136.5,0.2],[142.5,-0.27],[147.6,0.05],[151.8,0.22],[154,0.05],[159.5,-0.13],[166.2,0.06],[169.4,-0.19],[173.2,0.1],[179.6,-0.18],[186.3,-0.1],[192.7,0.14],[203.9,-0.28],[212.1,-0.32],[240.3,0.56],[243.5,0.22],[248.8,0.17],[253.4,-0.06],[258.9,-0.34],[265.1,0.43],[270.3,0.32],[276.3,0.16],[282,0.76],[287.9,0.62],[299.5,0.08],[311.6,0.81],[323.2,1.17],[333.4,0.81],[343.2,0.08],[359.6,0.42],[376,-0.16],[392,-0.05],[408.4,0.39],[421.3,-0.04],[434.4,-0.67],[453.2,-0.24],[472.9,-0.93],[485.8,-0.62],[492.5,0.09],[498.9,0.09],[505.4,-0.33],[512.2,-0.53],[520.3,-0.55],[528,-0.26],[536,-0.42],[543.9,-0.55],[551.6,0.24],[559.7,-0.04],[567.8,0.47],[575.4,0.08],[580.9,0],[584.8,-0.39],[588.5,-0.17],[592,-0.24],[596.4,-0.04],[601.2,0.45],[604.9,-0.49],[606.2,-0.45],[610.6,0.04],[620.4,0.48],[627,0.1],[633.6,-0.85],[640.1,0.06],[647.1,0]];

// 2 sigma error bars for panels B, C, D, E.
var errAge = 643.5;
var errRed = [[2.12, 2.63], [1.38, 1.66], [8.88, 11.05], [0.73, 1.24]];
var errBlue = [[3.55, 3.85], [0.77, 0.93], [3.65, 4.8], [-0.74, -0.32]];

// Colours.
var RED = '#a30000', PINK = '#d58a8a', NAVY = '#0c0c6e', GREY = '#999999',
    BAND = '#e5e5e5', SKY = '#1e8cf0';

var svg = d3.select('#chart');
svg.append('rect').attr('width', 2210).attr('height', 2508).attr('fill', '#fff');

// Scales.
var x = d3.scaleLinear().domain([0, 650]).range([214, 1977]);
var xTop = d3.scaleLinear().domain([0, 650]).range([220, 1980]);
var yA = d3.scaleLinear().domain([3, 5]).range([257, 568]);
var yB = d3.scaleLinear().domain([1.5, 4]).range([452, 960]);
var yC = d3.scaleLinear().domain([0.5, 2]).range([1292, 890]);
var yD = d3.scaleLinear().domain([0, 12]).range([1838, 1309]);
var yE = d3.scaleLinear().domain([-1, 1.5]).range([2259, 1751]);
var panelY = [yB, yC, yD, yE];

var TOP = 178, BASE = 2259, RIGHT = 1980;

// MIS bands and phase box.
svg.append('g').selectAll('rect').data(misBands).join('rect')
  .attr('x', function(d) { return x(d[0]); })
  .attr('width', function(d) { return x(d[1]) - x(d[0]); })
  .attr('y', TOP).attr('height', BASE - TOP).attr('fill', BAND);

svg.append('rect').attr('x', x(phaseB[0])).attr('width', x(phaseB[1]) - x(phaseB[0]))
  .attr('y', BASE).attr('height', 58).attr('fill', BAND);

// Reference lines.
svg.append('line').attr('x1', x(0)).attr('x2', RIGHT)
  .attr('y1', yE(0)).attr('y2', yE(0)).attr('stroke', '#888').attr('stroke-width', 4);

svg.append('g').selectAll('line').data(depthTemps).join('line')
  .attr('x1', 220).attr('x2', 1985)
  .attr('y1', function(d) { return yD(d); }).attr('y2', function(d) { return yD(d); })
  .attr('stroke', SKY).attr('stroke-width', 3).attr('stroke-dasharray', '32,28');

// Series.
function drawLine(data, y, color, width, curve) {
  svg.append('path').datum(data)
    .attr('fill', 'none').attr('stroke', color).attr('stroke-width', width)
    .attr('stroke-linejoin', 'round')
    .attr('d', d3.line()
      .x(function(d) { return x(d[0]); })
      .y(function(d) { return y(d[1]); })
      .curve(curve || d3.curveLinear));
}

var smooth = d3.curveCatmullRom.alpha(0.5);

drawLine(lr04, yA, GREY, 3);

drawLine(gbRawB, yB, PINK, 3);
drawLine(npB, yB, NAVY, 3);
drawLine(gbSmB, yB, RED, 3.5, smooth);

drawLine(gbRawC, yC, PINK, 3);
drawLine(npC, yC, NAVY, 3);
drawLine(gbSmC, yC, RED, 3.5, smooth);

drawLine(gbRawD, yD, PINK, 3);
drawLine(npD, yD, NAVY, 3);
drawLine(gbSmD, yD, RED, 3.5, smooth);

drawLine(gbRawE, yE, PINK, 3);
drawLine(npE, yE, NAVY, 3);
drawLine(gbSmE, yE, RED, 3.5, smooth);

// Error bars.
function drawErr(range, y, color) {
  var g = svg.append('g').attr('stroke', color).attr('stroke-width', 3);
  var cx = x(errAge);
  g.append('line').attr('x1', cx).attr('x2', cx).attr('y1', y(range[0])).attr('y2', y(range[1]));
  g.append('line').attr('x1', cx - 9).attr('x2', cx + 9).attr('y1', y(range[0])).attr('y2', y(range[0]));
  g.append('line').attr('x1', cx - 9).attr('x2', cx + 9).attr('y1', y(range[1])).attr('y2', y(range[1]));
}
errRed.forEach(function(r, i) { drawErr(r, panelY[i], RED); });
errBlue.forEach(function(r, i) { drawErr(r, panelY[i], NAVY); });

// Axes.
function styleAxis(g, size) {
  g.attr('font-family', 'Lato, "Open Sans", sans-serif').attr('font-size', size);
  g.selectAll('path, line').attr('stroke', '#000').attr('stroke-width', 3);
  g.selectAll('text').attr('fill', '#000');
  return g;
}

var minorAges = d3.range(0, 650, 20).filter(function(d) { return d % 100 !== 0; });

styleAxis(svg.append('g').attr('transform', 'translate(0,' + TOP + ')')
  .call(d3.axisTop(xTop).tickValues(ageTicks).tickSize(30).tickSizeOuter(0).tickPadding(16)), 52);
styleAxis(svg.append('g').attr('transform', 'translate(0,' + TOP + ')')
  .call(d3.axisTop(xTop).tickValues(minorAges).tickSize(14).tickSizeOuter(0).tickFormat('')), 52);

styleAxis(svg.append('g').attr('transform', 'translate(0,2319)')
  .call(d3.axisBottom(x).tickValues(ageTicks).tickSize(31).tickSizeOuter(0).tickPadding(20)), 52);
styleAxis(svg.append('g').attr('transform', 'translate(0,2319)')
  .call(d3.axisBottom(x).tickValues(minorAges).tickSize(15).tickSizeOuter(0).tickFormat('')), 52);
svg.append('line').attr('x1', x(0)).attr('x2', RIGHT).attr('y1', 2319).attr('y2', 2319)
  .attr('stroke', '#000').attr('stroke-width', 4);
svg.append('line').attr('x1', x(0)).attr('x2', RIGHT).attr('y1', BASE).attr('y2', BASE)
  .attr('stroke', '#000').attr('stroke-width', 4);

function whole(d) { return d % 1 === 0 ? String(d) : ''; }
function halfStep(d) { return (d * 2) % 1 === 0 ? String(d) : ''; }

styleAxis(svg.append('g').attr('transform', 'translate(216,0)')
  .call(d3.axisLeft(yB).tickValues([1.5, 2, 2.5, 3, 3.5, 4]).tickSize(15).tickSizeOuter(0).tickPadding(28).tickFormat(String)), 52);
styleAxis(svg.append('g').attr('transform', 'translate(216,0)')
  .call(d3.axisLeft(yD).tickValues([0, 2, 4, 6, 8, 10, 12]).tickSize(16).tickSizeOuter(0).tickPadding(6).tickFormat(String)), 52);

styleAxis(svg.append('g').attr('transform', 'translate(' + RIGHT + ',0)')
  .call(d3.axisRight(yA).tickValues([3, 3.5, 4, 4.5, 5]).tickSize(15).tickSizeOuter(0).tickPadding(10).tickFormat(whole)), 52);
styleAxis(svg.append('g').attr('transform', 'translate(' + RIGHT + ',0)')
  .call(d3.axisRight(yC).tickValues([0.5, 0.75, 1, 1.25, 1.5, 1.75, 2]).tickSize(17).tickSizeOuter(0).tickPadding(30).tickFormat(halfStep)), 52);
styleAxis(svg.append('g').attr('transform', 'translate(' + RIGHT + ',0)')
  .call(d3.axisRight(yE).tickValues([-1, -0.5, 0, 0.5, 1, 1.5]).tickSize(15).tickSizeOuter(0).tickPadding(10).tickFormat(String)), 52);

// Texts.
function label(txt, tx, ty, opts) {
  opts = opts || {};
  return svg.append('text').attr('x', tx).attr('y', ty).text(txt)
    .attr('font-size', opts.size || 50)
    .attr('fill', opts.color || '#000')
    .attr('text-anchor', opts.anchor || 'middle')
    .attr('font-style', opts.italic ? 'italic' : null);
}

label('Age [ka BP]', 1097, 62, { size: 58 });
label('Age [ka BP]', 1097, 2488, { size: 58 });

label('MIS', 132, 254, { size: 52, color: '#555' });
svg.append('g').selectAll('text').data(misBands).join('text')
  .attr('x', function(d) { return x((d[0] + d[1]) / 2); }).attr('y', 254)
  .attr('text-anchor', 'middle').attr('font-size', 52).attr('fill', '#555')
  .text(function(d, i) { return misLabels[i]; });

label('A', 292, 401, { size: 48 });
label('B', 292, 666, { size: 48 });
label('C', 292, 1064, { size: 48 });
label('D', 292, 1497, { size: 48 });
label('E', 290, 1956, { size: 48 });

label('LR04', 427, 376, { color: '#888', size: 52 });
label('G. bulloides', 708, 646, { color: RED, italic: true, size: 54 });
label('N. pachyderma', 404, 956, { color: NAVY, italic: true, size: 54 });
label('2σ', 1922, 652, { color: RED, size: 52 });
label('2σ', 1922, 920, { color: NAVY, size: 52 });

label('Temp. at', 1990, 1545, { color: SKY, anchor: 'start', size: 52 });
label('30 m', 2000, 1606, { color: SKY, anchor: 'start', size: 50 });
label('70 m', 2000, 1708, { color: SKY, anchor: 'start', size: 50 });

label('saline', 146, 1998, { size: 54 });
label('fresh', 145, 2140, { size: 54 });
var arrow = svg.append('g').attr('fill', 'none').attr('stroke', '#000').attr('stroke-width', 2.5);
arrow.append('line').attr('x1', 140).attr('x2', 140).attr('y1', 2013).attr('y2', 2099);
arrow.append('path').attr('d', 'M124,2043 L140,2013 L156,2043');
arrow.append('path').attr('d', 'M124,2069 L140,2099 L156,2069');

label('Phase A', x(139), 2310, { size: 52 });
label('Phase B', x(434), 2310, { size: 52 });

// Rotated axis titles.
function vtitle(cx, cy, size, parts) {
  var t = svg.append('text').attr('transform', 'translate(' + cx + ',' + cy + ') rotate(-90)')
    .attr('text-anchor', 'middle').attr('dominant-baseline', 'central').attr('font-size', size).attr('fill', '#000');
  parts.forEach(function(p) {
    var s = t.append('tspan').text(p[0]);
    if (p[1] === 'sup') s.attr('baseline-shift', 'super').attr('font-size', size * 0.6);
    if (p[1] === 'sub') s.attr('baseline-shift', 'sub').attr('font-size', size * 0.6);
  });
}

vtitle(40, 707, 54, [['δ'], ['18', 'sup'], ['O [‰ PDB]']]);
vtitle(72, 1574, 56, [['T'], ['Mg/Ca', 'sub'], [' [°C]']]);
vtitle(2106, 395, 58, [['δ'], ['18', 'sup'], ['O [PDB ‰]']]);
vtitle(2152, 1092, 60, [['Mg/Ca [mmol/mol]']]);
vtitle(2160, 2072, 56, [['δ'], ['18', 'sup'], ['O'], ['sw-ivc', 'sub'], [' [‰]']]);

</script>
</body>
</html>
